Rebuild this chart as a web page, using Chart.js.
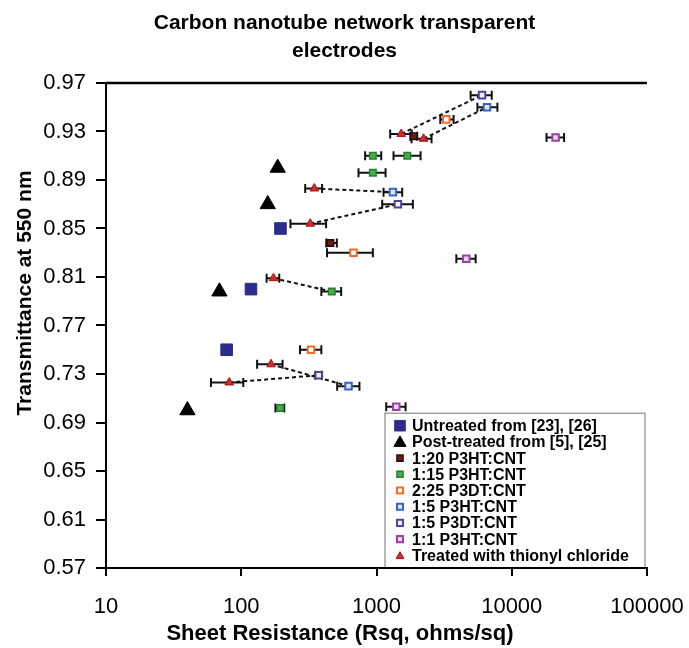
<!DOCTYPE html>
<html><head><meta charset="utf-8">
<script src="https://cdn.jsdelivr.net/npm/chart.js@4.4.1/dist/chart.umd.min.js"></script>
<style>html,body{margin:0;padding:0;background:#fff}#wrap{width:689px;height:648px;position:relative}</style>
</head><body><div id="wrap"><canvas id="c" width="689" height="648"></canvas></div>
<script>
// ---- tick labels ----
const xTicks = [10, 100, 1000, 10000, 100000];
const yTicks = [0.57, 0.61, 0.65, 0.69, 0.73, 0.77, 0.81, 0.85, 0.89, 0.93, 0.97];

// ---- series (sheet resistance R, transmittance T, error low/high in R) ----
const untreatedR = [195, 118, 78];
const untreatedT = [0.850, 0.800, 0.750];

const postR = [186, 157, 69, 40];
const postT = [0.900, 0.870, 0.798, 0.700];

const p3ht120R = [1890, 456];
const p3ht120T = [0.926, 0.838];
const p3ht120Lo = [1780, 425];
const p3ht120Hi = [2000, 509];

const p3ht115R = [940, 1690, 940, 467, 194];
const p3ht115T = [0.910, 0.910, 0.896, 0.798, 0.702];
const p3ht115Lo = [824, 1336, 736, 391, 179];
const p3ht115Hi = [1084, 2118, 1167, 548, 208];

const p3dt225R = [3280, 676, 328];
const p3dt225T = [0.940, 0.830, 0.750];
const p3dt225Lo = [2963, 431, 272];
const p3dt225Hi = [3715, 940, 391];

const p3ht15R = [6560, 1322, 621];
const p3ht15T = [0.950, 0.880, 0.720];
const p3ht15Lo = [5572, 1127, 512];
const p3ht15Hi = [7834, 1549, 748];

const p3dt15R = [6030, 1440, 374];
const p3dt15T = [0.960, 0.870, 0.729];
const p3dt15Lo = [4966, 1102, 353];
const p3dt15Hi = [7112, 1858, 396];

const p3ht11R = [21090, 4610, 1400];
const p3ht11T = [0.925, 0.825, 0.703];
const p3ht11Lo = [18070, 3893, 1180];
const p3ht11Hi = [24380, 5407, 1641];

const thionylR = [1524, 2228, 347, 324, 173, 166, 81.5];
const thionylT = [0.928, 0.924, 0.883, 0.854, 0.809, 0.738, 0.723];
const thionylLo = [1262, 1815, 297, 231, 154, 131, 59.7];
const thionylHi = [1824, 2553, 396, 424, 191, 202, 103.5];

// dashed links: thionyl point -> polymer-treated point
const linkR2 = [6030, 6560, 1322, 1440, 467, 621, 374];
const linkT2 = [0.960, 0.950, 0.880, 0.870, 0.798, 0.720, 0.729];

const titleLines = ['Carbon nanotube network transparent', 'electrodes'];
const xTitle = 'Sheet Resistance (Rsq, ohms/sq)';
const yTitle = 'Transmittance at 550 nm';

const FONT = "'Liberation Sans', Arial, Helvetica, sans-serif";

function pts(R, T) { return R.map((r, i) => ({ x: r, y: T[i] })); }

function series(label, R, T, lo, hi, style) {
  return Object.assign({
    label, data: pts(R, T), errLo: lo || null, errHi: hi || null, order: 0, showInLegend: true
  }, style);
}

const datasets = [
  series('Untreated from [23], [26]', untreatedR, untreatedT, null, null,
    { pointStyle: 'rect', pointRadius: 8.2, backgroundColor: '#2c2d8a', borderColor: '#2c2d8a', borderWidth: 1, legendRadius: 7.5 }),
  series('Post-treated from [5], [25]', postR, postT, null, null,
    { pointStyle: 'triangle', pointRadius: 8.8, backgroundColor: '#000', borderColor: '#000', borderWidth: 1, legendRadius: 7 }),
  series('1:20 P3HT:CNT', p3ht120R, p3ht120T, p3ht120Lo, p3ht120Hi,
    { pointStyle: 'rect', pointRadius: 4.6, backgroundColor: '#7a1414', borderColor: '#151515', borderWidth: 1.5, legendRadius: 4.3 }),
  series('1:15 P3HT:CNT', p3ht115R, p3ht115T, p3ht115Lo, p3ht115Hi,
    { pointStyle: 'rect', pointRadius: 4.6, backgroundColor: '#41b04b', borderColor: '#2b7d33', borderWidth: 1.5, legendRadius: 4.3 }),
  series('2:25 P3DT:CNT', p3dt225R, p3dt225T, p3dt225Lo, p3dt225Hi,
    { pointStyle: 'rect', pointRadius: 4.6, backgroundColor: '#ffffff', borderColor: '#f26b2a', borderWidth: 2, legendRadius: 4.3 }),
  series('1:5 P3HT:CNT', p3ht15R, p3ht15T, p3ht15Lo, p3ht15Hi,
    { pointStyle: 'rect', pointRadius: 4.6, backgroundColor: '#dbe5f8', borderColor: '#3d62c2', borderWidth: 2, legendRadius: 4.3 }),
  series('1:5 P3DT:CNT', p3dt15R, p3dt15T, p3dt15Lo, p3dt15Hi,
    { pointStyle: 'rect', pointRadius: 4.6, backgroundColor: '#f1effa', borderColor: '#4b4797', borderWidth: 2, legendRadius: 4.3 }),
  series('1:1 P3HT:CNT', p3ht11R, p3ht11T, p3ht11Lo, p3ht11Hi,
    { pointStyle: 'rect', pointRadius: 4.6, backgroundColor: '#ead4ef', borderColor: '#9c3fa6', borderWidth: 2, legendRadius: 4.3 }),
  series('Treated with thionyl chloride', thionylR, thionylT, thionylLo, thionylHi,
    { pointStyle: 'triangle', pointRadius: 5, backgroundColor: '#d42a2a', borderColor: '#a51515', borderWidth: 1, legendRadius: 4.6 })
];

thionylR.forEach((r, i) => {
  datasets.push({
    label: 'link' + i, showLine: true, showInLegend: false, order: 10,
    data: [{ x: r, y: thionylT[i] }, { x: linkR2[i], y: linkT2[i] }],
    borderColor: '#111', borderWidth: 2, borderDash: [4, 3], pointRadius: 0, fill: false
  });
});

function drawMarker(ctx, style, x, y, r, bg, bc, bw) {
  ctx.save();
  ctx.beginPath();
  if (style === 'triangle') {
    ctx.moveTo(x, y - r);
    ctx.lineTo(x + r * Math.sqrt(3) / 2, y + r / 2);
    ctx.lineTo(x - r * Math.sqrt(3) / 2, y + r / 2);
    ctx.closePath();
  } else {
    const s = r * Math.SQRT1_2;
    ctx.rect(x - s, y - s, 2 * s, 2 * s);
  }
  ctx.fillStyle = bg; ctx.fill();
  ctx.lineWidth = bw; ctx.strokeStyle = bc; ctx.stroke();
  ctx.restore();
}

const errorBars = {
  id: 'errorBars',
  beforeDatasetDraw(chart, args) {
    const ds = chart.data.datasets[args.index];
    if (!ds.errLo) return;
    const xs = chart.scales.x, ys = chart.scales.y, ctx = chart.ctx;
    ctx.save();
    ctx.strokeStyle = '#111'; ctx.lineWidth = 2;
    ds.data.forEach((p, i) => {
      const y = ys.getPixelForValue(p.y);
      const x1 = xs.getPixelForValue(ds.errLo[i]);
      const x2 = xs.getPixelForValue(ds.errHi[i]);
      ctx.beginPath();
      ctx.moveTo(x1, y); ctx.lineTo(x2, y);
      ctx.moveTo(x1, y - 4.5); ctx.lineTo(x1, y + 4.5);
      ctx.moveTo(x2, y - 4.5); ctx.lineTo(x2, y + 4.5);
      ctx.stroke();
    });
    ctx.restore();
  }
};

const frame = {
  id: 'frame',
  afterDraw(chart) {
    const ctx = chart.ctx, a = chart.chartArea, W = chart.width;
    ctx.save();
    // top border of plot area
    ctx.strokeStyle = '#000'; ctx.lineWidth = 2.5;
    ctx.beginPath(); ctx.moveTo(a.left, a.top); ctx.lineTo(a.right, a.top); ctx.stroke();

    // chart title (centred on the whole figure)
    ctx.fillStyle = '#000';
    ctx.textAlign = 'center'; ctx.textBaseline = 'middle';
    ctx.font = 'bold 21px ' + FONT;
    titleLines.forEach((t, i) => ctx.fillText(t, W / 2, 23 + i * 28.5));

    // axis titles
    ctx.font = 'bold 22px ' + FONT;
    ctx.fillText(xTitle, 340, 634);
    ctx.font = 'bold 21px ' + FONT;
    ctx.save();
    ctx.translate(25, 293); ctx.rotate(-Math.PI / 2);
    ctx.fillText(yTitle, 0, 0);
    ctx.restore();

    // legend box inside plot, bottom-right
    const items = chart.data.datasets.filter(d => d.showInLegend);
    const lh = 16.2, boxW = 260, boxH = items.length * lh + 9;
    const bx = a.right - 2 - boxW, by = a.bottom - boxH;
    ctx.fillStyle = '#fff';
    ctx.fillRect(bx, by, boxW, boxH);
    ctx.strokeStyle = '#8a8a8a'; ctx.lineWidth = 1.2;
    ctx.strokeRect(bx, by, boxW, boxH);
    ctx.font = 'bold 16px ' + FONT;
    ctx.textAlign = 'left'; ctx.textBaseline = 'middle';
    items.forEach((d, i) => {
      const cy = by + 12.5 + i * lh;
      drawMarker(ctx, d.pointStyle, bx + 15, cy + (d.pointStyle === 'triangle' ? 1 : 0), d.legendRadius,
        d.backgroundColor, d.borderColor, d.borderWidth);
      ctx.fillStyle = '#000';
      ctx.fillText(d.label, bx + 27, cy + 1);
    });
    // redraw bottom axis line over legend edge
    ctx.strokeStyle = '#000'; ctx.lineWidth = 2;
    ctx.beginPath(); ctx.moveTo(a.left, a.bottom); ctx.lineTo(a.right, a.bottom); ctx.stroke();
    ctx.restore();
  }
};

new Chart(document.getElementById('c'), {
  type: 'scatter',
  data: { datasets },
  plugins: [errorBars, frame],
  options: {
    responsive: false, animation: false, devicePixelRatio: 1,
    layout: { padding: { left: 0, right: 42, top: 83, bottom: 0 } },
    plugins: {
      legend: { display: false },
      tooltip: { enabled: false },
      title: { display: false }
    },
    scales: {
      x: {
        type: 'logarithmic', min: 10, max: 100000,
        afterBuildTicks: s => { s.ticks = xTicks.map(v => ({ value: v })); },
        afterFit: s => { s.height = 80; s.paddingRight = 0; s.paddingLeft = 0; },
        ticks: {
          callback: v => String(v), color: '#000', padding: 18, maxRotation: 0, autoSkip: false,
          font: { family: FONT, size: 22 }
        },
        grid: { drawOnChartArea: false, drawTicks: true, tickLength: 8, color: '#000', lineWidth: 2 },
        border: { display: true, color: '#000', width: 2 }
      },
      y: {
        type: 'linear', min: 0.57, max: 0.97,
        afterBuildTicks: s => { s.ticks = yTicks.map(v => ({ value: v })); },
        afterFit: s => { s.width = 106; s.paddingTop = 0; s.paddingBottom = 0; },
        ticks: {
          callback: v => Number(v).toFixed(2), color: '#000', padding: 10, autoSkip: false,
          font: { family: FONT, size: 22 }
        },
        grid: { drawOnChartArea: false, drawTicks: true, tickLength: 10, color: '#000', lineWidth: 2 },
        border: { display: true, color: '#000', width: 2 }
      }
    }
  }
});
</script>
</body></html>
